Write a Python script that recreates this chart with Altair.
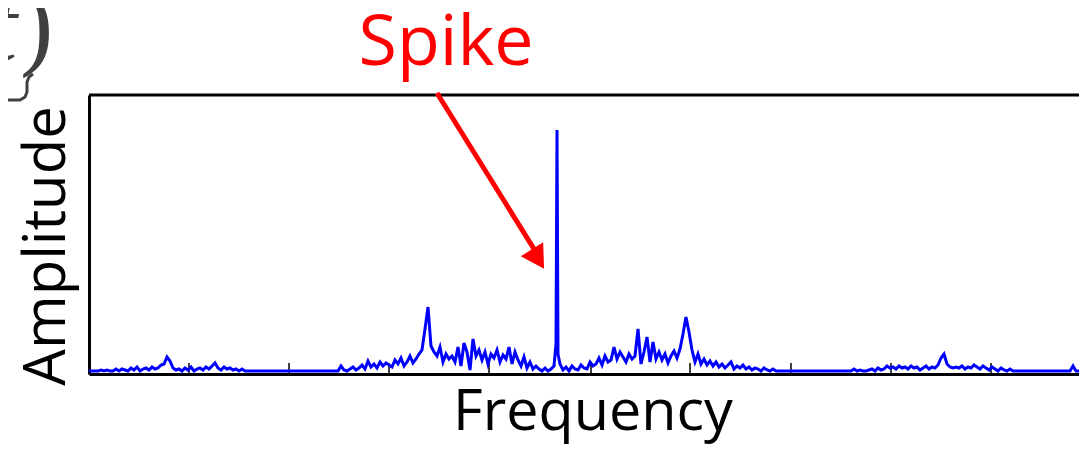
import altair as alt
import pandas as pd

# Frequency bins (regular grid) and amplitude readings
FREQ = list(range(0, 991, 3))
AMP = [
    3, 3, 3, 3, 4, 3, 4, 3, 3, 5,
    3, 5, 4, 3, 6, 4, 7, 3, 5, 6,
    4, 7, 5, 6, 9, 10, 17, 13, 6, 4,
    5, 3, 6, 4, 7, 3, 5, 6, 4, 7,
    5, 8, 11, 6, 4, 7, 5, 6, 4, 5,
    3, 5, 3, 3, 3, 3, 3, 3, 3, 3,
    3, 3, 3, 3, 3, 3, 3, 3, 3, 3,
    3, 3, 3, 3, 3, 3, 3, 3, 3, 3,
    3, 3, 3, 3, 8, 4, 3, 5, 7, 4,
    6, 9, 5, 13, 7, 10, 6, 12, 8, 11,
    9, 7, 14, 10, 16, 8, 12, 18, 11, 15,
    20, 24, 45, 67, 28, 22, 18, 27, 12, 20,
    15, 18, 12, 27, 8, 31, 22, 4, 35, 18,
    24, 14, 22, 10, 20, 16, 24, 12, 19, 15,
    27, 10, 22, 14, 8, 17, 6, 12, 5, 8,
    5, 3, 6, 3, 5, 8, 244, 10, 4, 7,
    3, 8, 5, 4, 9, 6, 5, 12, 8, 10,
    16, 9, 18, 12, 14, 27, 15, 22, 17, 12,
    20, 15, 18, 45, 10, 22, 37, 12, 32, 15,
    22, 14, 20, 11, 18, 23, 16, 25, 40, 57,
    42, 24, 12, 20, 10, 15, 9, 13, 8, 12,
    7, 10, 6, 9, 12, 5, 8, 6, 9, 5,
    7, 4, 6, 5, 3, 6, 4, 3, 5, 3,
    3, 3, 3, 3, 3, 3, 3, 3, 3, 3,
    3, 3, 3, 3, 3, 3, 3, 3, 3, 3,
    3, 3, 3, 3, 3, 5, 3, 4, 3, 3,
    4, 5, 3, 6, 4, 5, 8, 6, 7, 5,
    8, 6, 7, 5, 8, 6, 7, 4, 6, 8,
    5, 7, 6, 9, 16, 20, 10, 7, 6, 7,
    6, 8, 5, 7, 6, 9, 7, 5, 8, 6,
    4, 7, 5, 3, 6, 4, 3, 5, 3, 3,
    3, 3, 3, 3, 3, 3, 3, 3, 3, 3,
    3, 3, 3, 3, 3, 3, 3, 3, 8, 3,
    3,
]
# extra fine readings around the spike
SPIKE_FREQ = [467, 469]
SPIKE_AMP = [30, 20]

# small inward tick marks on the frequency axis
TICK_BINS = [100, 200, 300, 400, 502, 601, 702, 802, 902]
TICK_LEN = 11

X_DOMAIN = [0, 990]
Y_DOMAIN = [0, 279]

# annotation (data coordinates)
SPIKE_LABEL = {"f": 357, "a": 309, "text": "Spike"}
ARROW_START = {"f": 348, "a": 281}
ARROW_HEAD = {"f": 450, "a": 117}
X_TITLE = {"f": 504, "a": -56, "text": "Frequency"}
Y_TITLE = {"f": -24, "a": 128, "text": "Amplitude"}
BRACE_F = [-81, -69, -64, -62, -62, -60, -56]
BRACE_A = [274, 274, 277, 282, 292, 297, 300]

xs = alt.Scale(domain=X_DOMAIN, nice=False, zero=False)
ys = alt.Scale(domain=Y_DOMAIN, nice=False, zero=False)
noaxis = alt.Axis(labels=False, ticks=False, grid=False, title=None,
                  domainColor="#000000", domainWidth=3)

spec = pd.DataFrame({"f": FREQ + SPIKE_FREQ, "a": AMP + SPIKE_AMP}).sort_values("f")
ticks = pd.DataFrame({"f": TICK_BINS, "a0": [0] * len(TICK_BINS), "a1": [TICK_LEN] * len(TICK_BINS)})

tick_layer = alt.Chart(ticks).mark_rule(color="#000000", strokeWidth=1.5).encode(
    x=alt.X("f:Q", scale=xs, axis=noaxis),
    y=alt.Y("a0:Q", scale=ys, axis=noaxis),
    y2="a1:Q",
)

line = alt.Chart(spec).mark_line(color="#0000FF", strokeWidth=3).encode(
    x=alt.X("f:Q", scale=xs, axis=noaxis),
    y=alt.Y("a:Q", scale=ys, axis=noaxis),
    order="f:Q",
)

top = alt.Chart(pd.DataFrame({"a": [Y_DOMAIN[1]]})).mark_rule(color="#000000", strokeWidth=3).encode(
    y=alt.Y("a:Q", scale=ys, axis=noaxis),
)

arrow_df = pd.DataFrame({"f": [ARROW_START["f"]], "a": [ARROW_START["a"]],
                         "f2": [ARROW_HEAD["f"]], "a2": [ARROW_HEAD["a"]]})
arrow_line = alt.Chart(arrow_df).mark_rule(color="#FF0000", strokeWidth=5, clip=False).encode(
    x=alt.X("f:Q", scale=xs), y=alt.Y("a:Q", scale=ys), x2="f2:Q", y2="a2:Q",
)
head_df = pd.DataFrame({"f": [ARROW_HEAD["f"] - 1], "a": [ARROW_HEAD["a"] - 2]})
arrow_head = alt.Chart(head_df).mark_point(
    shape="triangle-up", filled=True, color="#FF0000", size=700, angle=148, opacity=1, clip=False
).encode(x=alt.X("f:Q", scale=xs), y=alt.Y("a:Q", scale=ys))

def label(d, **kw):
    df = pd.DataFrame({"f": [d["f"]], "a": [d["a"]], "t": [d["text"]]})
    return alt.Chart(df).mark_text(clip=False, **kw).encode(
        x=alt.X("f:Q", scale=xs), y=alt.Y("a:Q", scale=ys), text="t:N"
    )

spike_txt = label(SPIKE_LABEL, font="Open Sans", fontSize=70, color="#FF0000",
                  align="center", baseline="alphabetic")
xt = label(X_TITLE, font="Open Sans", fontSize=57.5, color="#000000",
           align="center", baseline="alphabetic")
yt = label(Y_TITLE, font="Open Sans", fontSize=58, color="#000000",
           align="center", baseline="alphabetic", angle=270)

paren = label({"f": -69, "a": 317, "text": ")"}, font="Liberation Serif", fontSize=100,
              color="#404040", align="left", baseline="alphabetic")
tee = label({"f": -72, "a": 314, "text": "t"}, font="Liberation Serif", fontSize=100,
            fontStyle="italic", color="#404040", align="right", baseline="alphabetic")
brace = alt.Chart(pd.DataFrame({"f": BRACE_F, "a": BRACE_A, "o": list(range(len(BRACE_F)))})).mark_line(
    color="#404040", strokeWidth=3, clip=False
).encode(x=alt.X("f:Q", scale=xs), y=alt.Y("a:Q", scale=ys), order="o:Q")

chart = alt.layer(
    tick_layer, line, top, arrow_line, arrow_head, spike_txt, xt, yt, paren, tee, brace
).properties(
    width=990, height=279,
    autosize=alt.AutoSizeParams(type="none"),
    padding={"left": 81, "top": 87, "right": 0, "bottom": 76},
).configure_view(stroke="transparent").configure(background="white")

chart.save("out.html", embed_options={"renderer": "svg", "actions": False})
